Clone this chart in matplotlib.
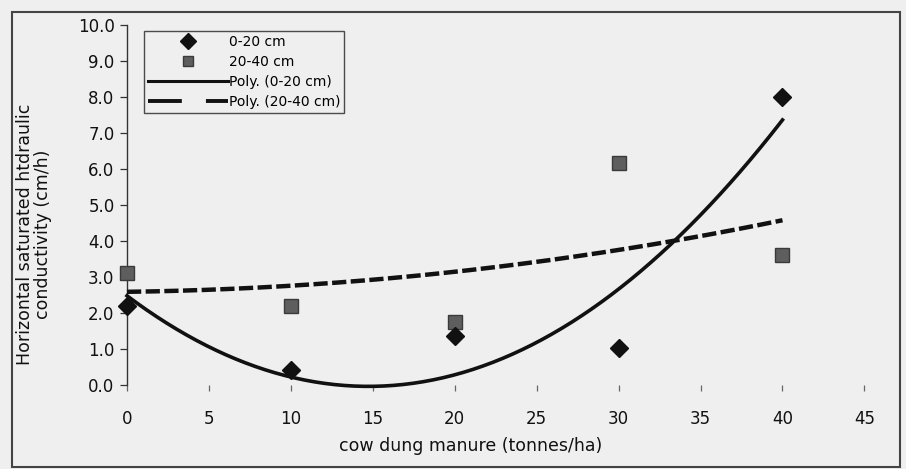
import numpy as np
import matplotlib
matplotlib.use("Agg")
import matplotlib.pyplot as plt
from matplotlib.lines import Line2D
from matplotlib.patches import Rectangle

# manure rate (tonnes/ha) and saturated hydraulic conductivity (cm/h)
manure = [0, 10, 20, 30, 40]
ksat_0_20 = [2.2, 0.42, 1.36, 1.03, 8.0]
ksat_20_40 = [3.1, 2.2, 1.75, 6.17, 3.6]

xticks = [0, 5, 10, 15, 20, 25, 30, 35, 40, 45]
yticks = [0, 1, 2, 3, 4, 5, 6, 7, 8, 9, 10]

plt.rcParams['font.family'] = ['DejaVu Sans']
W, H = 906, 469
fig = plt.figure(figsize=(W / 100, H / 100), dpi=100, facecolor='#efefef')

# chart frame
fig.patches.append(Rectangle((12 / W, 2 / H), 888 / W, 455 / H, transform=fig.transFigure,
                             fill=False, edgecolor='#444444', linewidth=1.5, zorder=1))

ax = fig.add_axes([127 / W, 84 / H, 762 / W, 360 / H])
ax.set_facecolor('none')
ax.set_xlim(0, 46.5)
ax.set_ylim(0, 10)

# second order trend lines through each depth
xs = np.linspace(0, 40, 200)
fit1 = np.polyfit(manure, ksat_0_20, 2)
fit2 = np.polyfit(manure, ksat_20_40, 2)
ax.plot(xs, np.polyval(fit2, xs), color='#111111', lw=3.2, ls=(0, (3.2, 1.0)),
        solid_capstyle='butt', clip_on=False, zorder=3)
ax.plot(xs, np.polyval(fit1, xs), color='#111111', lw=2.6, clip_on=False, zorder=3)

ax.plot(manure, ksat_20_40, ls='none', marker='s', ms=10, mfc='#5e5e5e', mec='#3a3a3a',
        mew=1, clip_on=False, zorder=4)
ax.plot(manure, ksat_0_20, ls='none', marker='D', ms=9.5, mfc='#111111', mec='#111111',
        clip_on=False, zorder=4)

for s in ['top', 'right', 'bottom']:
    ax.spines[s].set_visible(False)
ax.spines['left'].set_color('#333333')
ax.spines['left'].set_linewidth(1.0)

ax.set_xticks(xticks)
ax.set_yticks(yticks)
ax.set_yticklabels(['%.1f' % v for v in yticks])
ax.tick_params(axis='y', direction='out', length=5, width=0.9, color='#333333',
               labelsize=12, pad=4, labelcolor='#111111')
ax.tick_params(axis='x', direction='out', length=4, width=0.9, color='#666666',
               labelsize=12, pad=14, labelcolor='#111111')

fig.text(471 / W, 1 - 446 / H, 'cow dung manure (tonnes/ha)', fontsize=12.5,
         ha='center', va='center', color='#111111')
fig.text(34 / W, 1 - 234 / H, 'Horizontal saturated htdraulic\nconductivity (cm/h)',
         fontsize=12.5, rotation=90, ha='center', va='center', multialignment='center',
         color='#111111', linespacing=1.0)

handles = [
    Line2D([], [], ls='none', marker='D', ms=8, mfc='#111111', mec='#111111'),
    Line2D([], [], ls='none', marker='s', ms=7, mfc='#5e5e5e', mec='#3a3a3a'),
    Line2D([], [], color='#111111', lw=2.2),
    Line2D([], [], color='#111111', lw=2.8, ls=(0, (8.7, 6.2))),
]
labels = ['0-20 cm', '20-40 cm', 'Poly. (0-20 cm)', 'Poly. (20-40 cm)']
leg = ax.legend(handles, labels, loc='upper left', bbox_to_anchor=(17 / 762, 354 / 360),
                fontsize=10, handlelength=5.75, handletextpad=0.05, labelspacing=0.42,
                borderpad=0.3, borderaxespad=0, frameon=True, fancybox=False)
leg.get_frame().set_edgecolor('#222222')
leg.get_frame().set_linewidth(1.0)
leg.get_frame().set_facecolor('#efefef')

fig.savefig('out.png', dpi=100, facecolor=fig.get_facecolor())
